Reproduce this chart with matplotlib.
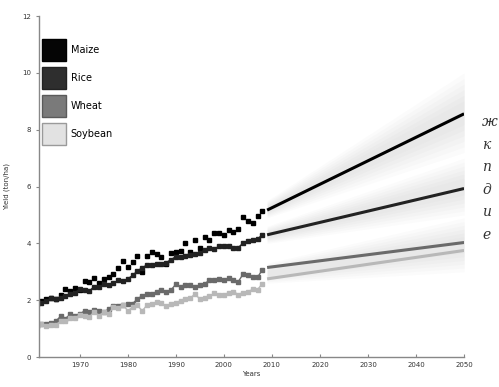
import numpy as np
import matplotlib.pyplot as plt
from matplotlib.patches import Patch

years = list(range(1961, 2009))

maize = [1.94, 1.98, 2.03, 2.06, 2.04, 2.20, 2.39, 2.33, 2.43, 2.35,
         2.69, 2.65, 2.79, 2.60, 2.73, 2.82, 2.93, 3.15, 3.37, 3.16,
         3.34, 3.54, 3.00, 3.55, 3.70, 3.61, 3.53, 3.28, 3.67, 3.69,
         3.74, 4.00, 3.69, 4.13, 3.84, 4.21, 4.11, 4.38, 4.37, 4.29,
         4.48, 4.41, 4.49, 4.93, 4.80, 4.70, 4.96, 5.13]
rice = [1.87, 1.91, 1.98, 2.07, 2.03, 2.06, 2.15, 2.21, 2.27, 2.38,
        2.36, 2.32, 2.48, 2.45, 2.56, 2.52, 2.59, 2.70, 2.67, 2.75,
        2.87, 3.03, 3.14, 3.24, 3.25, 3.26, 3.28, 3.32, 3.43, 3.53,
        3.52, 3.57, 3.59, 3.63, 3.66, 3.76, 3.82, 3.81, 3.89, 3.89,
        3.92, 3.85, 3.85, 4.01, 4.09, 4.12, 4.15, 4.30]
wheat = [1.09, 1.16, 1.17, 1.21, 1.26, 1.43, 1.35, 1.50, 1.46, 1.50,
         1.63, 1.59, 1.67, 1.63, 1.59, 1.68, 1.81, 1.78, 1.84, 1.86,
         1.88, 2.04, 2.16, 2.21, 2.21, 2.30, 2.37, 2.30, 2.36, 2.56,
         2.45, 2.54, 2.53, 2.48, 2.53, 2.58, 2.70, 2.72, 2.74, 2.71,
         2.77, 2.71, 2.65, 2.92, 2.90, 2.82, 2.80, 3.07]
soybean = [1.13, 1.16, 1.10, 1.12, 1.14, 1.25, 1.28, 1.36, 1.37, 1.48,
           1.45, 1.41, 1.59, 1.46, 1.58, 1.51, 1.76, 1.74, 1.83, 1.63,
           1.75, 1.82, 1.62, 1.83, 1.87, 1.94, 1.90, 1.79, 1.88, 1.91,
           1.98, 2.05, 2.06, 2.23, 2.03, 2.09, 2.15, 2.24, 2.19, 2.17,
           2.27, 2.30, 2.20, 2.27, 2.30, 2.38, 2.37, 2.58]

# projections 2009 -> 2050 (start, end)
proj_years = [2009, 2050]
maize_proj = [5.17, 8.56]
rice_proj = [4.3, 5.93]
wheat_proj = [3.15, 4.03]
soybean_proj = [2.75, 3.75]

# soft uncertainty clouds (low, high) at start and end of projection
maize_band_lo = [4.9, 7.2]
maize_band_hi = [5.5, 10.0]
rice_band_lo = [4.0, 5.0]
rice_band_hi = [4.6, 7.0]
wheat_band_lo = [2.6, 3.0]
wheat_band_hi = [3.3, 4.9]

crops = ["Maize", "Rice", "Wheat", "Soybean"]
colors = ["#000000", "#222222", "#6a6a6a", "#b8b8b8"]
legend_colors = ["#050505", "#2e2e2e", "#7a7a7a", "#e2e2e2"]
legend_edges = ["#000000", "#222222", "#5a5a5a", "#9a9a9a"]

fig = plt.figure(figsize=(4.99, 3.87), dpi=100)
ax = fig.add_axes([0.078, 0.0775, 0.852, 0.881])

# layered fills to imitate the blurred grey clouds
for lo, hi in [(maize_band_lo, maize_band_hi), (rice_band_lo, rice_band_hi),
               (wheat_band_lo, wheat_band_hi)]:
    lo, hi = np.array(lo), np.array(hi)
    mid = (lo + hi) / 2
    for f in np.linspace(0.3, 1.0, 6):
        ax.fill_between(proj_years, mid - (mid - lo) * f, mid + (hi - mid) * f,
                        color="#a0a0a0", alpha=0.04, lw=0)

hist = [maize, rice, wheat, soybean]
proj = [maize_proj, rice_proj, wheat_proj, soybean_proj]
for vals, p, c in zip(hist, proj, colors):
    ax.plot(years, vals, color=c, marker="s", ms=2.8, lw=1.0, ls="none" if c == "#000000" else "-")
    ax.plot(proj_years, p, color=c, lw=2.2, solid_capstyle="butt")

ax.set_xlim(1961.5, 2050)
ax.set_ylim(0, 12)
ax.set_xticks(range(1970, 2051, 10))
ax.set_yticks(range(0, 13, 2))
ax.tick_params(labelsize=5, length=2, color="#888888", labelcolor="#333333")
ax.tick_params(axis="x", direction="in")
for s in ["top", "right"]:
    ax.spines[s].set_visible(False)
for s in ["left", "bottom"]:
    ax.spines[s].set_color("#888888")
    ax.spines[s].set_linewidth(1.0)
ax.set_xlabel("Years", fontsize=5, labelpad=2, color="#333333")
ax.set_ylabel("Yield (ton/ha)", fontsize=5, labelpad=9, color="#333333")

handles = [Patch(facecolor=fc, edgecolor=ec, lw=1) for fc, ec in zip(legend_colors, legend_edges)]
ax.legend(handles, crops, loc="upper left", bbox_to_anchor=(0.0, 0.94), frameon=False,
          fontsize=7, handlelength=2.5, handleheight=3.1, labelspacing=0.6,
          handletextpad=0.45, borderaxespad=0.2, borderpad=0.1)

side = ["ж", "к", "п", "д", "и", "е"]
for i, ch in enumerate(side):
    fig.text(0.966, 1 - (122 + 22.6 * i) / 387, ch, fontsize=10, family="DejaVu Serif",
             style="italic", color="#333333", va="center", ha="left")

fig.savefig("out.png", dpi=100)
